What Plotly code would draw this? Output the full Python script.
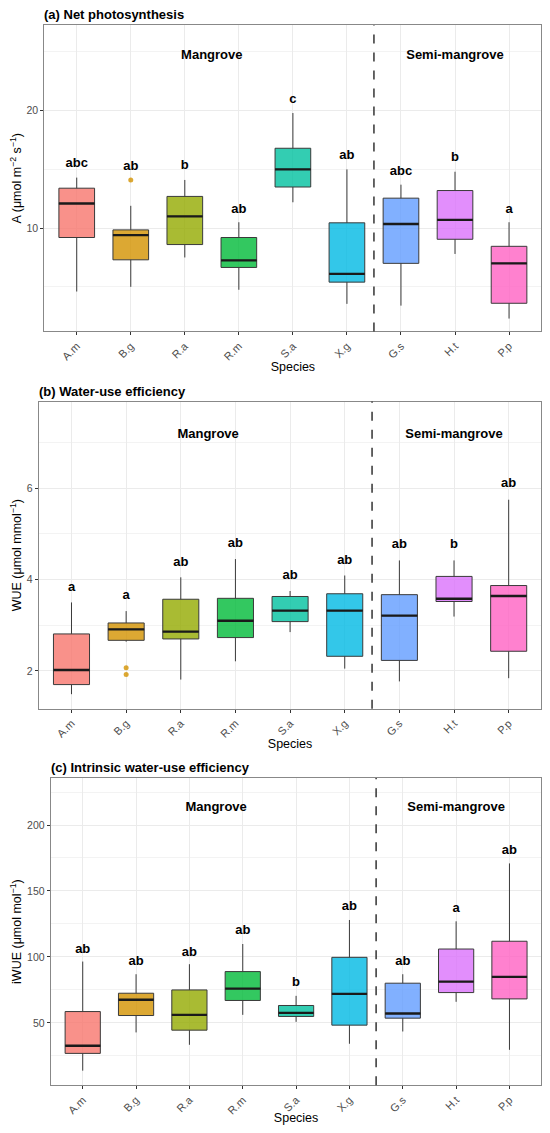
import plotly.graph_objects as go

species = ["A.m", "B.g", "R.a", "R.m", "S.a", "X.g", "G.s", "H.t", "P.p"]
colors = ["#F8766D", "#D39200", "#93AA00", "#00BA38", "#00C19F",
          "#00B9E3", "#619CFF", "#DB72FB", "#FF61C3"]
groups = ["Mangrove", "Semi-mangrove"]
group_x = [3.5, 8]

# (a) net photosynthesis
a_low = [4.6, 5.0, 7.5, 4.75, 12.2, 3.55, 3.4, 7.8, 2.3]
a_q1 = [9.2, 7.3, 8.6, 6.65, 13.5, 5.4, 7.0, 9.05, 3.6]
a_med = [12.1, 9.4, 11.0, 7.25, 15.0, 6.1, 10.35, 10.7, 7.0]
a_q3 = [13.4, 9.85, 12.7, 9.2, 16.8, 10.45, 12.55, 13.2, 8.45]
a_high = [14.3, 11.9, 14.1, 10.5, 19.8, 15.0, 13.7, 14.8, 10.5]
a_letters = ["abc", "ab", "b", "ab", "c", "ab", "abc", "b", "a"]
a_letter_y = [15.5, 15.2, 15.3, 11.6, 20.9, 16.2, 14.8, 16.0, 11.55]
a_out_sp = ["B.g"]
a_out_y = [14.1]

# (b) water-use efficiency
b_low = [1.49, 2.64, 1.81, 2.21, 2.85, 2.05, 1.77, 3.19, 1.84]
b_q1 = [1.70, 2.67, 2.70, 2.73, 3.08, 2.32, 2.23, 3.52, 2.43]
b_med = [2.02, 2.91, 2.86, 3.10, 3.32, 3.32, 3.21, 3.58, 3.64]
b_q3 = [2.81, 3.05, 3.57, 3.59, 3.63, 3.69, 3.67, 4.07, 3.87]
b_high = [3.50, 3.31, 4.05, 4.45, 3.75, 4.09, 4.42, 4.42, 5.75]
b_letters = ["a", "a", "ab", "ab", "ab", "ab", "ab", "b", "ab"]
b_letter_y = [3.82, 3.64, 4.38, 4.78, 4.09, 4.42, 4.76, 4.76, 6.09]
b_out_sp = ["B.g", "B.g"]
b_out_y = [2.07, 1.92]

# (c) intrinsic water-use efficiency
c_low = [13.8, 42.8, 33.4, 56.1, 50.8, 34.2, 43.5, 66.0, 29.6]
c_q1 = [26.9, 55.6, 44.5, 67.0, 54.9, 48.3, 53.6, 73.0, 68.2]
c_med = [32.7, 67.5, 56.1, 76.0, 57.6, 72.0, 57.1, 81.3, 84.9]
c_q3 = [58.6, 72.5, 75.0, 88.9, 63.2, 99.7, 80.1, 106.0, 111.9]
c_high = [96.5, 86.9, 94.5, 109.8, 70.5, 128.0, 86.9, 127.0, 170.9]
c_letters = ["ab", "ab", "ab", "ab", "b", "ab", "ab", "a", "ab"]
c_letter_y = [105.8, 96.2, 103.5, 119.7, 80.1, 137.8, 96.5, 136.8, 180.4]
c_out_sp = []
c_out_y = []


def rgba(hex_color, alpha):
    h = hex_color.lstrip("#")
    r, g, b = int(h[0:2], 16), int(h[2:4], 16), int(h[4:6], 16)
    return f"rgba({r},{g},{b},{alpha})"


BOX_W = 0.66
FONT = "Liberation Sans, Arial, sans-serif"
pos = list(range(1, len(species) + 1))

# figure is 534x1117 since the page body keeps an 8px margin
panels = [
    dict(low=a_low, q1=a_q1, med=a_med, q3=a_q3, high=a_high, letters=a_letters,
         letter_y=a_letter_y, out_sp=a_out_sp, out_y=a_out_y, group_y=24.65,
         yrange=[1.2, 27.3], dtick=10, minor=5,
         ytitle="A (μmol m<sup>−2</sup> s<sup>−1</sup>)",
         title="(a) Net photosynthesis",
         xdom=[0.0680, 0.999], ydom=[0.7099, 0.9848]),
    dict(low=b_low, q1=b_q1, med=b_med, q3=b_q3, high=b_high, letters=b_letters,
         letter_y=b_letter_y, out_sp=b_out_sp, out_y=b_out_y, group_y=7.18,
         yrange=[1.17, 7.9], dtick=2, minor=1,
         ytitle="WUE (μmol mmol<sup>−1</sup>)",
         title="(b) Water-use efficiency",
         xdom=[0.0575, 0.999], ydom=[0.3715, 0.6470]),
    dict(low=c_low, q1=c_q1, med=c_med, q3=c_q3, high=c_high, letters=c_letters,
         letter_y=c_letter_y, out_sp=c_out_sp, out_y=c_out_y, group_y=213.2,
         yrange=[2.7, 235.7], dtick=50, minor=25,
         ytitle="iWUE (μmol mol<sup>−1</sup>)",
         title="(c) Intrinsic water-use efficiency",
         xdom=[0.0800, 0.999], ydom=[0.0338, 0.3095]),
]

fig = go.Figure()
layout = {}
annotations = []
shapes = []

for k, p in enumerate(panels):
    n = "" if k == 0 else str(k + 1)
    xa, ya = "x" + n, "y" + n
    for i, sp in enumerate(species):
        fig.add_trace(go.Box(
            x=[pos[i]], q1=[p["q1"][i]], median=[p["med"][i]], q3=[p["q3"][i]],
            lowerfence=[p["low"][i]], upperfence=[p["high"][i]],
            width=BOX_W, whiskerwidth=0, boxpoints=False,
            fillcolor=rgba(colors[i], 0.8),
            line=dict(color="#3a3a3a", width=1),
            xaxis=xa, yaxis=ya, showlegend=False, hoverinfo="skip",
        ))
        # thicker median bar, ggplot style
        fig.add_trace(go.Scatter(
            x=[pos[i] - BOX_W / 2, pos[i] + BOX_W / 2],
            y=[p["med"][i], p["med"][i]],
            mode="lines", line=dict(color="#1a1a1a", width=2.4),
            xaxis=xa, yaxis=ya, showlegend=False, hoverinfo="skip",
        ))
    if p["out_sp"]:
        ox = [pos[species.index(s)] for s in p["out_sp"]]
        oc = [rgba(colors[species.index(s)], 0.8) for s in p["out_sp"]]
        fig.add_trace(go.Scatter(
            x=ox, y=p["out_y"], mode="markers",
            marker=dict(size=5, color=oc, line=dict(width=0)),
            xaxis=xa, yaxis=ya, showlegend=False, hoverinfo="skip",
        ))
    fig.add_trace(go.Scatter(
        x=pos, y=p["letter_y"], text=[f"<b>{t}</b>" for t in p["letters"]],
        mode="text", textfont=dict(size=13, color="black", family=FONT),
        xaxis=xa, yaxis=ya, showlegend=False, hoverinfo="skip",
    ))
    fig.add_trace(go.Scatter(
        x=group_x, y=[p["group_y"]] * len(groups),
        text=[f"<b>{g}</b>" for g in groups],
        mode="text", textfont=dict(size=13, color="black", family=FONT),
        xaxis=xa, yaxis=ya, showlegend=False, hoverinfo="skip",
    ))
    shapes.append(dict(type="line", xref=xa, yref=ya + " domain", x0=6.5, x1=6.5,
                       y0=0, y1=1, line=dict(color="#333333", width=1.5, dash="dash")))

    layout["xaxis" + n] = dict(
        domain=p["xdom"], anchor=ya, range=[0.4, 9.6],
        tickvals=pos, ticktext=species, tickangle=-45,
        tickfont=dict(size=11, color="#4d4d4d", family=FONT),
        ticks="outside", ticklen=3, tickcolor="#333333",
        showgrid=True, gridcolor="#ebebeb", gridwidth=1, zeroline=False,
        showline=True, linecolor="#888888", linewidth=1, mirror=True,
        title=dict(text="Species", font=dict(size=12.5, color="black", family=FONT),
                   standoff=0),
    )
    layout["yaxis" + n] = dict(
        domain=p["ydom"], anchor=xa, range=p["yrange"],
        tick0=0, dtick=p["dtick"],
        minor=dict(dtick=p["minor"], showgrid=True, gridcolor="#f3f3f3", gridwidth=0.6),
        tickfont=dict(size=10.5, color="#4d4d4d", family=FONT),
        ticks="outside", ticklen=3, tickcolor="#333333",
        showgrid=True, gridcolor="#ebebeb", gridwidth=1, zeroline=False,
        showline=True, linecolor="#888888", linewidth=1, mirror=True,
        title=dict(text=p["ytitle"], font=dict(size=12.5, color="black", family=FONT),
                   standoff=4),
    )
    annotations.append(dict(
        text=f"<b>{p['title']}</b>", xref="paper", yref="paper",
        x=p["xdom"][0], y=p["ydom"][1], xanchor="left", yanchor="bottom",
        xshift=-2, yshift=1, showarrow=False,
        font=dict(size=13, color="black", family=FONT),
    ))

fig.update_layout(
    width=534, height=1117,
    margin=dict(l=0, r=0, t=0, b=0),
    paper_bgcolor="white", plot_bgcolor="white",
    font=dict(family=FONT),
    shapes=shapes, annotations=annotations,
    **layout,
)

fig.write_html("out.html")
